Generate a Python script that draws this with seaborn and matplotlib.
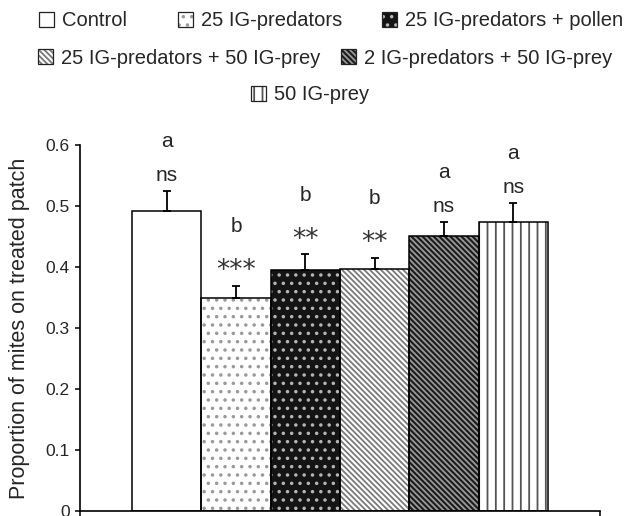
import numpy as np
import pandas as pd
import seaborn as sns
import matplotlib.pyplot as plt
from matplotlib.patches import Patch
from matplotlib.legend_handler import HandlerTuple

treatments = ['Control', '25 IG-predators', '25 IG-predators + pollen',
              '25 IG-predators + 50 IG-prey', '2 IG-predators + 50 IG-prey', '50 IG-prey']
proportion = [0.491, 0.349, 0.395, 0.397, 0.451, 0.474]
se = [0.034, 0.020, 0.026, 0.018, 0.023, 0.031]
letters = ['a', 'b', 'b', 'b', 'a', 'a']
signif = ['ns', '***', '**', '**', 'ns', 'ns']
yticks = [0, 0.1, 0.2, 0.3, 0.4, 0.5, 0.6]
ytick_labels = ['0', '0.1', '0.2', '0.3', '0.4', '0.5', '0.6']

# fill styles per treatment
faces = ['white', 'white', '#141414', 'white', '#1c1c1c', 'white']
hatch_cols = ['white', '#9a9a9a', '#b5b5b5', '#7a7a7a', '#9a9a9a', '#555555']
hatches = ['', '..', '..', '\\' * 6, '\\' * 6, '||']

sns.set_style('ticks')
plt.rcParams['font.family'] = ['Liberation Sans', 'DejaVu Sans']
plt.rcParams['hatch.linewidth'] = 1.3

df = pd.DataFrame({'treatment': treatments, 'prop': proportion})

W, H = 627, 516
fig = plt.figure(figsize=(W / 100, H / 100), dpi=100)
ax = fig.add_axes([80 / W, 5 / H, 520 / W, 366 / H])

sns.barplot(data=df, x='treatment', y='prop', hue='treatment', palette=faces,
            legend=False, width=1, linewidth=0, saturation=1, ax=ax)
for p, hc, h in zip(ax.patches, hatch_cols, hatches):
    p.set_edgecolor(hc)
    p.set_hatch(h)
    p.set_linewidth(0)

x = np.arange(len(treatments))
ax.bar(x, proportion, width=1, fill=False, edgecolor='black', linewidth=1.1, zorder=3)
ax.errorbar(x, proportion, yerr=[np.zeros(len(se)), se], fmt='none', ecolor='black',
            elinewidth=1.3, capsize=2.7, capthick=1.3, zorder=4)

for i in range(len(treatments)):
    top = proportion[i] + se[i]
    if signif[i] == 'ns':
        ax.text(i, top + 0.025, signif[i], ha='center', va='center', fontsize=15)
        ax.text(i, top + 0.081, letters[i], ha='center', va='center', fontsize=15)
    else:
        ax.text(i, top + 0.024, signif[i], ha='center', va='center', fontsize=19,
                family='DejaVu Sans', color='#333333')
        ax.text(i, top + 0.097, letters[i], ha='center', va='center', fontsize=15)

ax.set_xlim(-1.25, 6.25)
ax.set_ylim(0, 0.6)
ax.set_xticks([-1.25, 6.25])
ax.set_xticklabels(['', ''])
ax.set_yticks(yticks)
ax.set_yticklabels(ytick_labels)
ax.set_xlabel('')
ax.set_ylabel('Proportion of mites on treated patch', fontsize=15.5, labelpad=11)
ax.tick_params(direction='out', length=3.5, width=1.1, labelsize=12.5, pad=4, color='black')
for s in ['top', 'right']:
    ax.spines[s].set_visible(False)
for s in ['left', 'bottom']:
    ax.spines[s].set_linewidth(1.2)
    ax.spines[s].set_color('black')

# legend entries placed one by one like the original layout
spots = [(39, 21), (178, 21), (382, 21), (38, 58), (341, 58), (251, 95)]
for i, (lx, ly) in enumerate(spots):
    back = Patch(facecolor=faces[i], edgecolor=hatch_cols[i], hatch=hatches[i], linewidth=0)
    edge = Patch(fill=False, edgecolor='#222222', linewidth=0.9)
    fig.legend(handles=[(back, edge)], labels=[treatments[i]],
               handler_map={tuple: HandlerTuple(ndivide=1)},
               loc='center left', bbox_to_anchor=(lx / W, 1 - ly / H),
               frameon=False, borderpad=0, borderaxespad=0, fontsize=14.5,
               handlelength=0.75, handleheight=0.75, handletextpad=0.4)

fig.savefig('out.png', dpi=100)
